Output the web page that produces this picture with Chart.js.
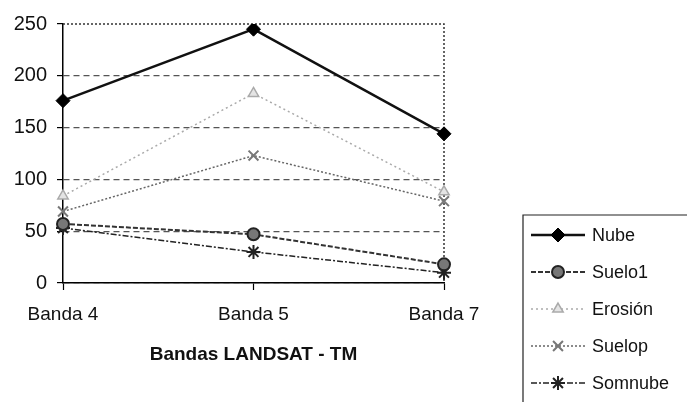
<!DOCTYPE html>
<html>
<head>
<meta charset="utf-8">
<script src="https://cdn.jsdelivr.net/npm/chart.js@4/dist/chart.umd.min.js"></script>
<style>
  html, body { margin: 0; padding: 0; background: #fff; }
  #wrap { width: 687px; height: 402px; }
</style>
</head>
<body>
<div id="wrap"><canvas id="line-chart" width="687" height="402"></canvas></div>
<script>
var bandas = ['Banda 4', 'Banda 5', 'Banda 7'];
var nube = [176, 245, 144];
var suelo1 = [57, 47, 18];
var erosion = [84, 183, 88];
var suelop = [69, 123, 79];
var somnube = [53, 30, 10];
var yTicks = [0, 50, 100, 150, 200, 250];

var FONT = '"Liberation Sans", Arial, sans-serif';

// marco punteado arriba y a la derecha
var frame = {
    id: 'frame',
    beforeDatasetsDraw: function (chart) {
        var a = chart.chartArea, c = chart.ctx;
        c.save();
        c.strokeStyle = '#333';
        c.lineWidth = 1.5;
        c.setLineDash([2, 2]);
        c.beginPath();
        c.moveTo(a.left, a.top);
        c.lineTo(a.right, a.top);
        c.lineTo(a.right, a.bottom);
        c.stroke();
        c.restore();
    }
};

// leyenda en caja, como la original
var boxLegend = {
    id: 'boxLegend',
    afterDraw: function (chart) {
        var c = chart.ctx;
        var x0 = 523, y0 = 215, step = 37;
        c.save();
        c.strokeStyle = '#222';
        c.lineWidth = 1.2;
        c.beginPath();
        c.moveTo(687, y0);
        c.lineTo(x0, y0);
        c.lineTo(x0, 402);
        c.stroke();
        chart.data.datasets.forEach(function (ds, i) {
            var y = y0 + 20 + i * step;
            c.strokeStyle = ds.borderColor;
            c.lineWidth = ds.borderWidth;
            c.setLineDash(ds.borderDash || []);
            c.beginPath();
            c.moveTo(531, y);
            c.lineTo(585, y);
            c.stroke();
            c.setLineDash([]);
            c.fillStyle = ds.pointBackgroundColor;
            c.strokeStyle = ds.pointBorderColor;
            c.lineWidth = ds.pointBorderWidth;
            Chart.helpers.drawPoint(c, {
                pointStyle: ds.pointStyle,
                radius: ds.pointRadius,
                rotation: 0,
                borderWidth: ds.pointBorderWidth
            }, 558, y);
            c.fillStyle = '#111';
            c.font = '18px ' + FONT;
            c.textBaseline = 'middle';
            c.fillText(ds.label, 592, y + 1);
        });
        c.restore();
    }
};

var myChart = document.getElementById('line-chart');

var myLineChart = new Chart(myChart, {
    type: 'line',
    data: {
        labels: bandas,
        datasets: [
            {
                label: 'Nube',
                data: nube,
                borderColor: '#111',
                borderWidth: 2.5,
                pointStyle: 'rectRot',
                pointRadius: 7,
                pointBackgroundColor: '#000',
                pointBorderColor: '#000',
                pointBorderWidth: 1
            },
            {
                label: 'Suelo1',
                data: suelo1,
                borderColor: '#333',
                borderWidth: 2,
                borderDash: [5, 2],
                pointStyle: 'circle',
                pointRadius: 6,
                pointBackgroundColor: '#777',
                pointBorderColor: '#222',
                pointBorderWidth: 2
            },
            {
                label: 'Erosión',
                data: erosion,
                borderColor: '#aaa',
                borderWidth: 1.5,
                borderDash: [2, 3],
                pointStyle: 'triangle',
                pointRadius: 6,
                pointBackgroundColor: '#e4e4e4',
                pointBorderColor: '#aaa',
                pointBorderWidth: 1.5
            },
            {
                label: 'Suelop',
                data: suelop,
                borderColor: '#666',
                borderWidth: 1.5,
                borderDash: [2, 2],
                pointStyle: 'crossRot',
                pointRadius: 7,
                pointBackgroundColor: '#777',
                pointBorderColor: '#777',
                pointBorderWidth: 2
            },
            {
                label: 'Somnube',
                data: somnube,
                borderColor: '#222',
                borderWidth: 1.5,
                borderDash: [6, 2, 2, 2],
                pointStyle: 'star',
                pointRadius: 7,
                pointBackgroundColor: '#222',
                pointBorderColor: '#222',
                pointBorderWidth: 2
            }
        ]
    },
    options: {
        responsive: false,
        animation: false,
        devicePixelRatio: 1,
        layout: { padding: { top: 24, right: 243, left: 0, bottom: 0 } },
        plugins: {
            legend: { display: false },
            tooltip: { enabled: false }
        },
        elements: { line: { tension: 0 } },
        scales: {
            x: {
                offset: false,
                afterFit: function (s) { s.height = 119; },
                grid: { drawOnChartArea: false, tickLength: 7, tickColor: '#000', tickWidth: 1.2 },
                border: { color: '#000', width: 1.5 },
                ticks: { color: '#111', font: { family: FONT, size: 19 }, padding: 13, maxRotation: 0 },
                title: {
                    display: true,
                    text: 'Bandas LANDSAT - TM',
                    color: '#111',
                    font: { family: FONT, size: 19, weight: 'bold' },
                    padding: { top: 0, bottom: 36 }
                }
            },
            y: {
                min: 0,
                max: 250,
                afterFit: function (s) { s.width = 63; },
                afterBuildTicks: function (s) {
                    s.ticks = yTicks.map(function (v) { return { value: v }; });
                },
                grid: {
                    color: function (ctx) { return ctx.tick && ctx.tick.value === 250 ? 'rgba(0,0,0,0)' : '#555'; },
                    lineWidth: 1.2,
                    tickLength: 6,
                    tickColor: '#000',
                    tickWidth: 1.2
                },
                border: { color: '#000', width: 1.5, dash: [6, 4] },
                ticks: { color: '#111', font: { family: FONT, size: 20 }, padding: 10 }
            }
        }
    },
    plugins: [frame, boxLegend]
});
</script>
</body>
</html>
